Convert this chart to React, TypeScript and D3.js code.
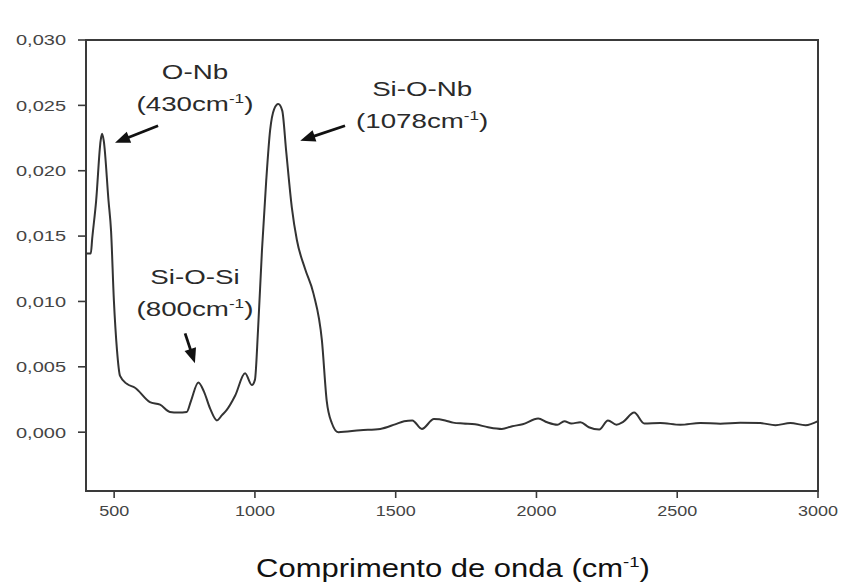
import React from "react";
import * as d3 from "d3";

// FTIR spectrum: wavenumber (cm-1) vs absorbance
const wavenumbers = [
  400, 417, 422, 436, 452, 457, 463, 480, 489, 499, 510, 521, 545, 574, 627, 663, 698, 727, 758, 773,
  799, 819, 841, 865, 883, 900, 930, 965, 989, 1000, 1011, 1025, 1040, 1054, 1068, 1083, 1097, 1111,
  1131, 1149, 1178, 1208, 1238, 1255, 1273, 1296, 1374, 1445, 1498, 1530, 1559, 1593, 1636, 1676,
  1704, 1740, 1782, 1828, 1877, 1914, 1951, 2006, 2038, 2074, 2099, 2124, 2156, 2186, 2223, 2254,
  2284, 2308, 2347, 2383, 2440, 2511, 2582, 2653, 2724, 2795, 2849, 2902, 2956, 3000,
];
const absorbance = [
  0.01366, 0.01366, 0.0148, 0.0177, 0.0223, 0.02283, 0.0223, 0.0177, 0.0154, 0.0101, 0.0063, 0.0043,
  0.0037, 0.0034, 0.0023, 0.0021, 0.00155, 0.0015, 0.00155, 0.0024, 0.0038, 0.0031, 0.0018, 0.0009,
  0.0013, 0.0017, 0.0028, 0.0045, 0.0036, 0.004, 0.0078, 0.0139, 0.0192, 0.0231, 0.0247, 0.0251,
  0.0246, 0.0215, 0.0172, 0.0147, 0.0125, 0.0106, 0.007, 0.0024, 0.0007, 0.0, 0.00015, 0.00025,
  0.0006, 0.00084, 0.0009, 0.00025, 0.001, 0.0009, 0.00073, 0.00066, 0.0006, 0.00038, 0.00025,
  0.00046, 0.0006, 0.00105, 0.00076, 0.00057, 0.00084, 0.00066, 0.00076, 0.00038, 0.0002, 0.0009,
  0.00057, 0.00079, 0.0015, 0.00066, 0.0007, 0.00057, 0.0007, 0.00065, 0.00072, 0.0007, 0.00053,
  0.0007, 0.00053, 0.00084,
];

const xTicks = [500, 1000, 1500, 2000, 2500, 3000];
const yTicks = [0, 0.005, 0.01, 0.015, 0.02, 0.025, 0.03];

// Band assignments: name, wavenumber text, label anchor and arrow (data coords)
const bandNames = ["O-Nb", "Si-O-Nb", "Si-O-Si"];
const bandWavenumbers = ["430", "1078", "800"];
const bandLabelX = [787, 1594, 787];
const bandLabelY = [0.0270, 0.02575, 0.01135];
const arrowFrom = [
  [656, 0.02344],
  [1320, 0.02344],
  [752, 0.00756],
];
const arrowTo = [
  [503, 0.02214],
  [1161, 0.0223],
  [787, 0.00527],
];

const W = 845;
const H = 587;
const M = { left: 86, right: 818, top: 40, bottom: 491 };

const font = "'Liberation Sans', Arial, sans-serif";

function Arrow({ x1, y1, x2, y2 }: { x1: number; y1: number; x2: number; y2: number }) {
  const ang = Math.atan2(y2 - y1, x2 - x1);
  const len = 15;
  const half = 6;
  const bx = x2 - len * Math.cos(ang);
  const by = y2 - len * Math.sin(ang);
  const px = -Math.sin(ang) * half;
  const py = Math.cos(ang) * half;
  return (
    <g>
      <line x1={x1} y1={y1} x2={bx + 2 * Math.cos(ang)} y2={by + 2 * Math.sin(ang)} stroke="#111" strokeWidth={2.8} />
      <path d={`M${x2},${y2} L${bx + px},${by + py} L${bx - px},${by - py} Z`} fill="#111" />
    </g>
  );
}

export default function App() {
  const x = d3.scaleLinear().domain([400, 3000]).range([M.left, M.right]);
  const y = d3.scaleLinear().domain([-0.0045, 0.03]).range([M.bottom, M.top]);

  const pts = wavenumbers.map((w, i) => [w, absorbance[i]] as [number, number]);
  const line = d3
    .line<[number, number]>()
    .x((d) => x(d[0]))
    .y((d) => y(d[1]))
    .curve(d3.curveMonotoneX);

  const fmt = (v: number) => v.toFixed(3).replace(".", ",");

  return (
    <svg
      width={W}
      height={H}
      style={{ position: "absolute", left: 0, top: 0, background: "#fff" }}
    >
      {/* frame */}
      <rect
        x={M.left}
        y={M.top}
        width={M.right - M.left}
        height={M.bottom - M.top}
        fill="none"
        stroke="#3a3a3a"
        strokeWidth={2}
      />

      {/* y axis */}
      {yTicks.map((t) => (
        <g key={"y" + t}>
          <line x1={M.left - 8} x2={M.left} y1={y(t)} y2={y(t)} stroke="#3a3a3a" strokeWidth={1.6} />
          <text
            x={M.left - 20}
            y={y(t)}
            dy="0.36em"
            textAnchor="end"
            fontFamily={font}
            fontSize={15}
            textLength={50}
            lengthAdjust="spacingAndGlyphs"
            fill="#444"
          >
            {fmt(t)}
          </text>
        </g>
      ))}

      {/* x axis */}
      {xTicks.map((t) => {
        const label = String(t);
        const w = label.length * 10;
        return (
          <g key={"x" + t}>
            <line x1={x(t)} x2={x(t)} y1={M.bottom} y2={M.bottom + 7} stroke="#3a3a3a" strokeWidth={1.6} />
            <text
              x={x(t) - w / 2}
              y={M.bottom + 25}
              fontFamily={font}
              fontSize={15}
              textLength={w}
              lengthAdjust="spacingAndGlyphs"
              fill="#444"
            >
              {label}
            </text>
          </g>
        );
      })}

      {/* spectrum */}
      <path d={line(pts) ?? ""} fill="none" stroke="#333" strokeWidth={2} strokeLinejoin="round" />

      {/* band annotations */}
      {bandNames.map((name, i) => (
        <g key={name}>
          <g transform={`translate(${x(bandLabelX[i])},${y(bandLabelY[i])}) scale(1.32,1)`}>
            <text textAnchor="middle" fontFamily={font} fontSize={21} fill="#2a2a2a">
              {name}
            </text>
            <text y={32} textAnchor="middle" fontFamily={font} fontSize={21} fill="#2a2a2a">
              ({bandWavenumbers[i]}cm
              <tspan fontSize={13} dy={-8}>
                -1
              </tspan>
              <tspan dy={8}>)</tspan>
            </text>
          </g>
          <Arrow
            x1={x(arrowFrom[i][0])}
            y1={y(arrowFrom[i][1])}
            x2={x(arrowTo[i][0])}
            y2={y(arrowTo[i][1])}
          />
        </g>
      ))}

      {/* axis title */}
      <g transform="translate(453,577) scale(1.24,1)">
        <text textAnchor="middle" fontFamily={font} fontSize={25} fill="#111">
          Comprimento de onda (cm
          <tspan fontSize={15} dy={-10}>
            -1
          </tspan>
          <tspan dy={10}>)</tspan>
        </text>
      </g>
    </svg>
  );
}
